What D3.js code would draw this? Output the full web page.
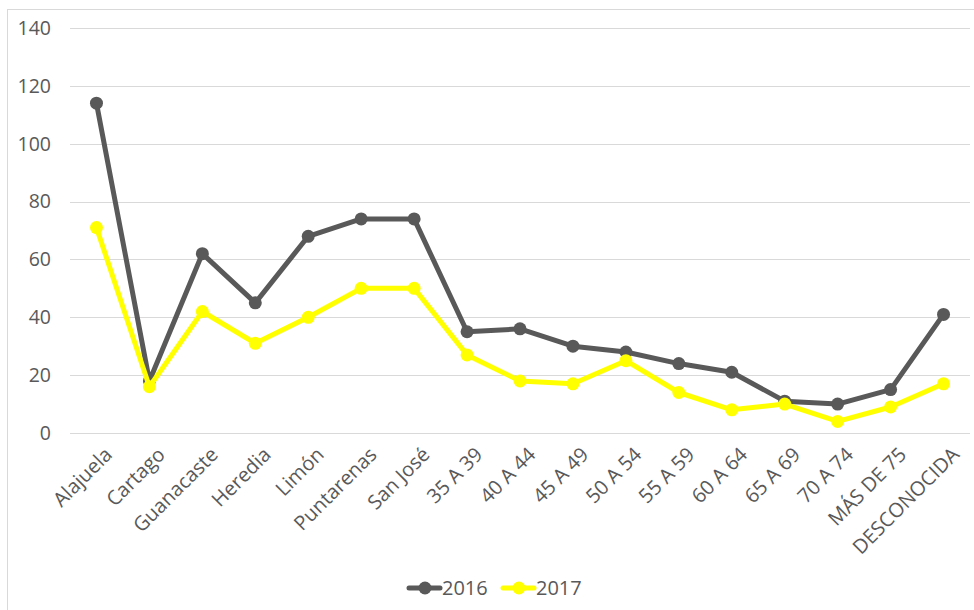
<!DOCTYPE html>
<html>
<head>
<meta charset="utf-8">
<script src="https://cdn.jsdelivr.net/npm/d3@7"></script>
<style>
  body { margin: 0; background: #fff; }
  svg { display: block; font-family: 'Open Sans', sans-serif; }
</style>
</head>
<body>
<svg id="chart" width="974" height="610"></svg>
<script>
'use strict';

const categories = [
  'Alajuela', 'Cartago', 'Guanacaste', 'Heredia', 'Limón', 'Puntarenas', 'San José',
  '35 A 39', '40 A 44', '45 A 49', '50 A 54', '55 A 59', '60 A 64', '65 A 69',
  '70 A 74', 'MÁS DE 75', 'DESCONOCIDA',
];
const values2016 = [114, 18, 62, 45, 68, 74, 74, 35, 36, 30, 28, 24, 21, 11, 10, 15, 41];
const values2017 = [71, 16, 42, 31, 40, 50, 50, 27, 18, 17, 25, 14, 8, 10, 4, 9, 17];
const yTicks = [0, 20, 40, 60, 80, 100, 120, 140];

const series = [
  { key: '2016', color: '#595959', values: values2016 },
  { key: '2017', color: '#ffff00', values: values2017 },
];

const margin = { left: 70, right: 4, top: 28, bottom: 177 };
const width = 974;
const height = 610;

const svg = d3.select('#chart');

// chart area border (only top/left visible in the original crop)
svg.append('rect')
  .attr('x', 7.5)
  .attr('y', 9.5)
  .attr('width', 1000)
  .attr('height', 700)
  .attr('fill', '#fff')
  .attr('stroke', '#d9d9d9');

const x = d3.scaleBand()
  .domain(categories)
  .range([margin.left, width - margin.right]);

const y = d3.scaleLinear()
  .domain([0, 140])
  .range([height - margin.bottom, margin.top]);

// gridlines
svg.append('g')
  .selectAll('line')
  .data(yTicks)
  .join('line')
  .attr('x1', margin.left)
  .attr('x2', width - margin.right)
  .attr('y1', (d) => Math.round(y(d)) + 0.5)
  .attr('y2', (d) => Math.round(y(d)) + 0.5)
  .attr('stroke', '#d9d9d9')
  .attr('stroke-width', 1);

// y axis labels
svg.append('g')
  .selectAll('text')
  .data(yTicks)
  .join('text')
  .attr('x', 51)
  .attr('y', (d) => y(d))
  .attr('dy', '0.35em')
  .attr('text-anchor', 'end')
  .attr('fill', '#595959')
  .attr('font-size', 19.5)
  .text((d) => d);

// x axis labels, rotated
const cx = (c) => x(c) + x.bandwidth() / 2;
svg.append('g')
  .selectAll('text')
  .data(categories)
  .join('text')
  .attr('transform', (d) => `translate(${cx(d) + 7},${446}) rotate(-45)`)
  .attr('text-anchor', 'end')
  .attr('dy', '0.7em')
  .attr('fill', '#595959')
  .attr('font-size', 20)
  .text((d) => d);

const line = d3.line()
  .x((d, i) => cx(categories[i]))
  .y((d) => y(d));

series.forEach((s) => {
  const g = svg.append('g');
  g.append('path')
    .datum(s.values)
    .attr('d', line)
    .attr('fill', 'none')
    .attr('stroke', s.color)
    .attr('stroke-width', 5)
    .attr('stroke-linejoin', 'round')
    .attr('stroke-linecap', 'round');
  g.selectAll('circle')
    .data(s.values)
    .join('circle')
    .attr('cx', (d, i) => cx(categories[i]))
    .attr('cy', (d) => y(d))
    .attr('r', 6.5)
    .attr('fill', s.color);
});

// legend
const legend = svg.append('g').attr('transform', 'translate(409,588)');
const legendItems = legend.selectAll('g')
  .data(series)
  .join('g')
  .attr('transform', (d, i) => `translate(${i * 94},0)`);
legendItems.append('line')
  .attr('x1', 0)
  .attr('x2', 31)
  .attr('stroke', (d) => d.color)
  .attr('stroke-width', 5)
  .attr('stroke-linecap', 'round');
legendItems.append('circle')
  .attr('cx', 16)
  .attr('r', 6.5)
  .attr('fill', (d) => d.color);
legendItems.append('text')
  .attr('x', 33)
  .attr('dy', '0.35em')
  .attr('fill', '#595959')
  .attr('font-size', 20)
  .text((d) => d.key);
</script>
</body>
</html>
